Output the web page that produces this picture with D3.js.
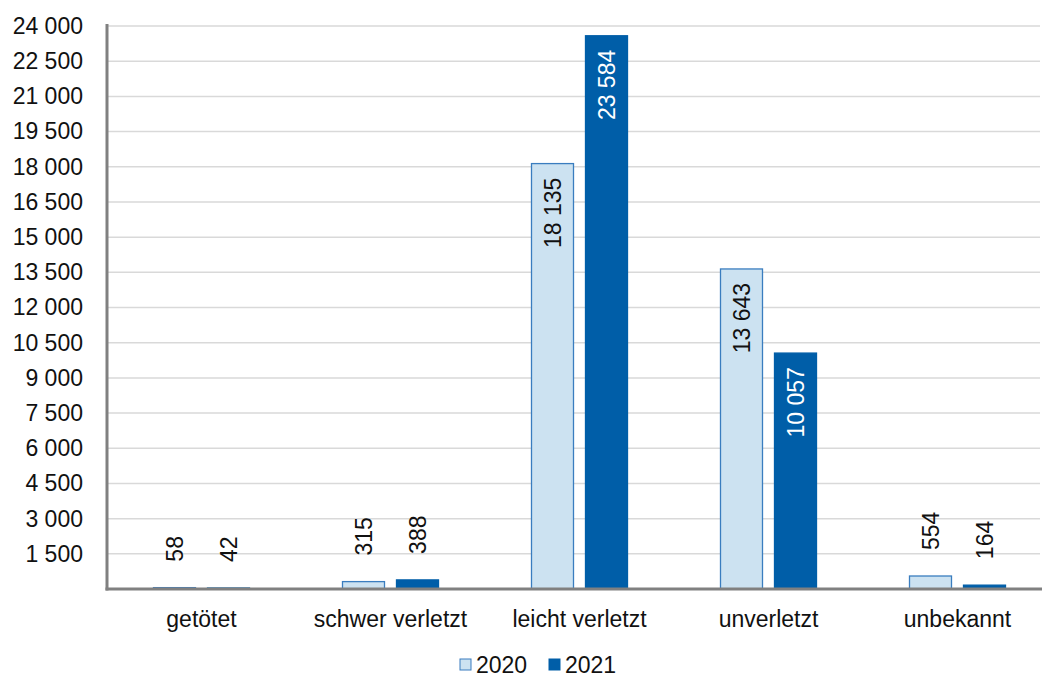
<!DOCTYPE html>
<html><head><meta charset="utf-8">
<script src="https://cdn.jsdelivr.net/npm/d3@7"></script>
<style>
html,body{margin:0;padding:0;background:#fff;}
text{font-family:"Liberation Sans",Arial,sans-serif;}
</style></head>
<body>
<svg id="chart" width="1042" height="679"></svg>
<script>
const categories = ["getötet","schwer verletzt","leicht verletzt","unverletzt","unbekannt"];
const seriesNames = ["2020","2021"];
const values2020 = [58, 315, 18135, 13643, 554];
const values2021 = [42, 388, 23584, 10057, 164];
const yTicks = [1500,3000,4500,6000,7500,9000,10500,12000,13500,15000,16500,18000,19500,21000,22500,24000];

const colors = {"2020":"#cce2f1","2021":"#005ea8"};
const strokes = {"2020":"#3a7dbf","2021":"#005ea8"};
const labelColors = {"2020":"#111","2021":"#fff"};

const svg = d3.select("#chart");
const mLeft = 107, mRight = 1052, mTop = 26, mBottom = 589;
const fs = 23;

const loc = d3.formatLocale({decimal:",", thousands:" ", grouping:[3], currency:["","€"]});
const fmt = loc.format(",d");

const x = d3.scaleBand().domain(categories).range([mLeft, mRight]);
const y = d3.scaleLinear().domain([0, 24000]).range([mBottom, mTop]);
const x1 = d3.scaleBand().domain(seriesNames).range([0, 97]).paddingInner(11/54);

// gridlines
svg.append("g").selectAll("line").data(yTicks).join("line")
  .attr("x1", mLeft).attr("x2", 1040)
  .attr("y1", d => y(d)).attr("y2", d => y(d))
  .attr("stroke", "#d9d9d9").attr("stroke-width", 1.5);

// y axis
const yAxis = d3.axisLeft(y).tickValues(yTicks).tickFormat(fmt).tickSize(0).tickPadding(24);
const gy = svg.append("g").attr("transform", `translate(${mLeft},0)`).call(yAxis);
gy.select(".domain").remove();
gy.selectAll("text").attr("font-size", fs).attr("fill", "#111")
  .style("font-family", '"Liberation Sans",Arial,sans-serif');

const data = categories.map((c,i) => ({cat:c, vals:[{s:"2020", v:values2020[i]},{s:"2021", v:values2021[i]}]}));

const groups = svg.append("g").selectAll("g").data(data).join("g")
  .attr("transform", d => `translate(${x(d.cat) + x.bandwidth()/2 - 48.5},0)`);

groups.selectAll("rect").data(d => d.vals).join("rect")
  .attr("x", d => x1(d.s) + 0.5)
  .attr("width", x1.bandwidth() - 1)
  .attr("y", d => y(d.v))
  .attr("height", d => mBottom - y(d.v))
  .attr("fill", d => colors[d.s])
  .attr("stroke", d => strokes[d.s])
  .attr("stroke-width", 1.3);

// labels
groups.selectAll("text.lbl").data(d => d.vals).join("text")
  .attr("class","lbl")
  .attr("transform", d => {
    const cx = x1(d.s) + x1.bandwidth()/2;
    const inside = d.v > 5000;
    const ty = inside ? y(d.v) + 14 : y(d.v) - 26;
    return `translate(${cx},${ty}) rotate(-90)`;
  })
  .attr("text-anchor", d => d.v > 5000 ? "end" : "start")
  .attr("dy", "0.35em")
  .attr("font-size", fs)
  .attr("fill", d => d.v > 5000 ? labelColors[d.s] : "#111")
  .text(d => fmt(d.v));

// axis lines
svg.append("line").attr("x1", mLeft).attr("x2", mLeft).attr("y1", mTop - 2).attr("y2", mBottom + 1.5)
  .attr("stroke", "#808080").attr("stroke-width", 3);
svg.append("line").attr("x1", mLeft - 1.5).attr("x2", 1045).attr("y1", mBottom).attr("y2", mBottom)
  .attr("stroke", "#808080").attr("stroke-width", 3);

// x axis labels
const xAxis = d3.axisBottom(x).tickSize(0).tickPadding(22);
const gx = svg.append("g").attr("transform", `translate(0,${mBottom})`).call(xAxis);
gx.select(".domain").remove();
gx.selectAll("text").attr("font-size", fs).attr("fill", "#111")
  .style("font-family", '"Liberation Sans",Arial,sans-serif');

// legend
const legend = svg.append("g");
const lx = [460, 549];
seriesNames.forEach((s,i) => {
  legend.append("rect").attr("x", lx[i]).attr("y", 659).attr("width", 11).attr("height", 11)
    .attr("fill", colors[s]).attr("stroke", strokes[s]).attr("stroke-width", 1);
  legend.append("text").attr("x", lx[i] + 16).attr("y", 673).attr("font-size", fs)
    .attr("fill", "#111").text(s);
});
</script>
</body></html>
